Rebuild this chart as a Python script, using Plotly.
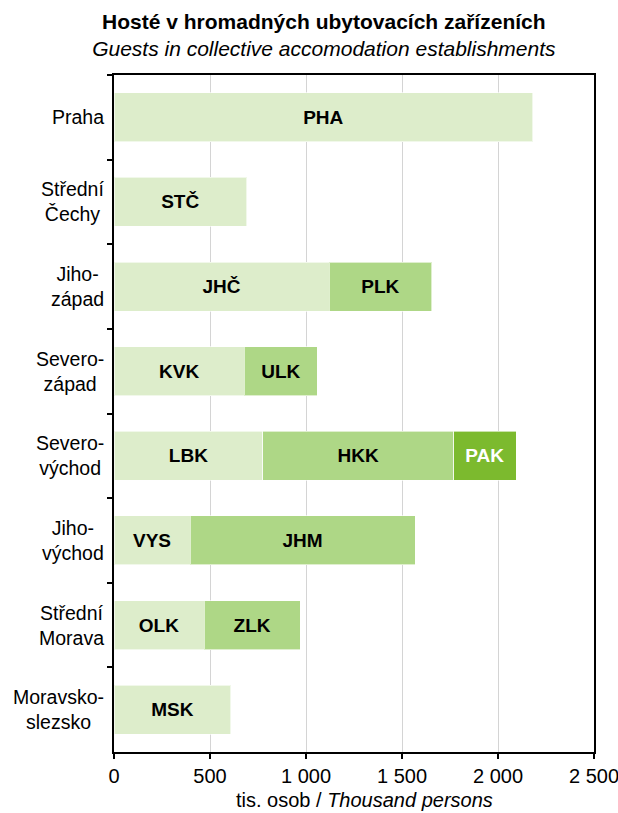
import plotly.graph_objects as go

# Cohesion regions (top to bottom) and their display labels
regions = ["Praha", "Střední Čechy", "Jihozápad", "Severozápad",
           "Severovýchod", "Jihovýchod", "Střední Morava", "Moravskoslezsko"]
region_labels = ["Praha", "Střední<br>Čechy", "Jiho-<br>západ", "Severo-<br>západ",
                 "Severo-<br>východ", "Jiho-<br>východ", "Střední<br>Morava",
                 "Moravsko-<br>slezsko"]

# Regions (kraje) stacked within each cohesion region, in thousand persons
seg1_codes = ["PHA", "STČ", "JHČ", "KVK", "LBK", "VYS", "OLK", "MSK"]
seg1_values = [2181, 691, 1120, 679, 776, 396, 469, 609]

seg2_codes = ["", "", "PLK", "ULK", "HKK", "JHM", "ZLK", ""]
seg2_values = [None, None, 535, 380, 993, 1172, 501, None]

seg3_codes = ["", "", "", "", "PAK", "", "", ""]
seg3_values = [None, None, None, None, 325, None, None, None]

x_ticks = [0, 500, 1000, 1500, 2000, 2500]
x_tick_text = ["0", "500", "1 000", "1 500", "2 000", "2 500"]

FONT = "Liberation Sans, Arial, sans-serif"

fig = go.Figure()
segments = [
    (seg1_values, seg1_codes, "#DDEDCB", "black"),
    (seg2_values, seg2_codes, "#AED786", "black"),
    (seg3_values, seg3_codes, "#7CBA2E", "white"),
]
for vals, codes, color, tcolor in segments:
    fig.add_trace(go.Bar(
        y=regions, x=vals, orientation="h",
        text=codes, textposition="inside", insidetextanchor="middle",
        textangle=0, constraintext="none",
        textfont=dict(family=FONT, size=19, color=tcolor, weight="bold"),
        marker=dict(color=color, line=dict(color="rgba(255,255,255,0.6)", width=1)),
        hoverinfo="skip", showlegend=False,
    ))

# Category labels: block right-aligned at the axis, lines centered
for name, lab in zip(regions, region_labels):
    fig.add_annotation(
        x=0, xref="x", xanchor="right", xshift=-8,
        y=name, yref="y", yanchor="middle",
        text=lab, align="center", showarrow=False,
        font=dict(family=FONT, size=19.5, color="black"),
    )

# Axis caption under the tick labels
fig.add_annotation(
    x=0.522, xref="paper", xanchor="center",
    y=0, yref="paper", yanchor="middle", yshift=-48,
    text="tis. osob / <i>Thousand persons</i>", showarrow=False,
    font=dict(family=FONT, size=20, color="black"),
)

fig.update_layout(
    width=618, height=813,
    margin=dict(l=114, r=24, t=75, b=61, autoexpand=False),
    paper_bgcolor="white", plot_bgcolor="white",
    barmode="stack", bargap=0.42,
    font=dict(family=FONT, size=19, color="black"),
    title=dict(
        text="<b>Hosté v hromadných ubytovacích zařízeních</b><br>"
             "<i>Guests in collective accomodation establishments</i>",
        x=0.524, xanchor="center", xref="container",
        y=1 - 29 / 813, yanchor="middle", yref="container",
        font=dict(family=FONT, size=21, color="black"),
    ),
    xaxis=dict(
        range=[0, 2500], tickvals=x_ticks, ticktext=x_tick_text,
        showgrid=True, gridcolor="#D4D4D4", gridwidth=1,
        showline=True, linecolor="black", linewidth=2, mirror=True,
        ticks="outside", ticklen=5, tickcolor="black", tickwidth=1.5,
        tickfont=dict(family=FONT, size=20), ticklabeloverflow="allow",
        zeroline=False, fixedrange=True, automargin=False,
    ),
    yaxis=dict(
        autorange="reversed", categoryorder="array", categoryarray=regions,
        showticklabels=False, tickson="boundaries",
        ticks="outside", ticklen=5, tickcolor="black", tickwidth=1.5,
        showline=True, linecolor="black", linewidth=2, mirror=True,
        showgrid=False, fixedrange=True, automargin=False,
    ),
)

fig.write_html("out.html")
